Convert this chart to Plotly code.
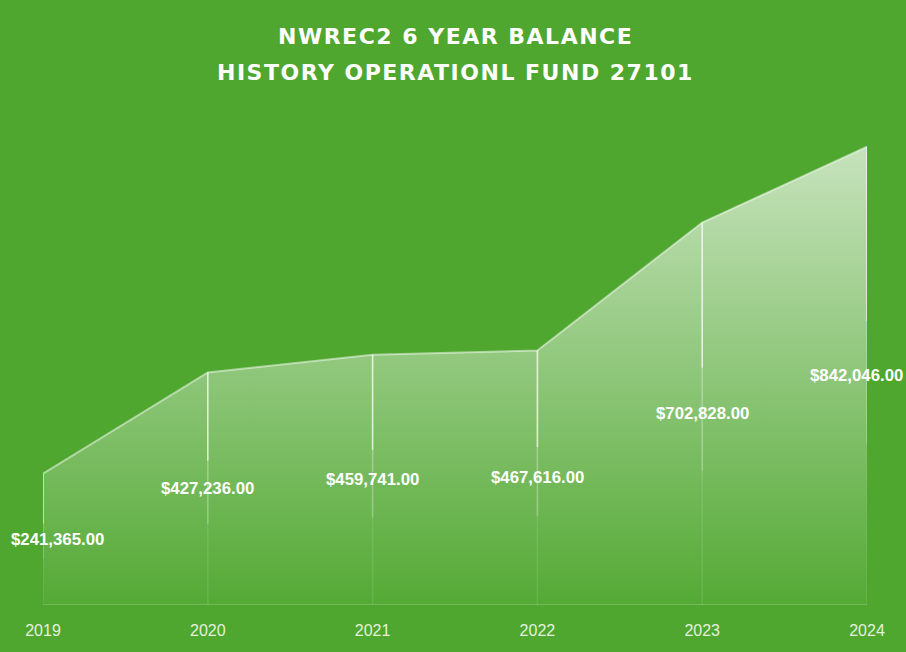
import plotly.graph_objects as go

years = [2019, 2020, 2021, 2022, 2023, 2024]
balances = [241365.00, 427236.00, 459741.00, 467616.00, 702828.00, 842046.00]
labels = ["$241,365.00", "$427,236.00", "$459,741.00", "$467,616.00", "$702,828.00", "$842,046.00"]
tick_text = ["2019", "2020", "2021", "2022", "2023", "2024"]
title_lines = ["NWREC2 6 YEAR BALANCE", "HISTORY OPERATIONL FUND 27101"]

BG = "#4fa72f"

fig = go.Figure()

fig.add_trace(go.Scatter(
    x=years, y=balances, mode="lines",
    line=dict(color="rgba(255,255,255,0.5)", width=2),
    fill="tozeroy",
    fillgradient=dict(
        type="vertical",
        colorscale=[[0, "rgba(255,255,255,0.03)"], [1, "rgba(255,255,255,0.68)"]],
    ),
    hoverinfo="skip", showlegend=False,
))

# drop lines (fading toward the baseline)
for x, v in zip(years, balances):
    fig.add_shape(type="line", xref="x", yref="y", x0=x, x1=x, y0=v, y1=v * 0.62,
                  line=dict(color="rgba(255,255,255,0.75)", width=1.6), layer="above")
    fig.add_shape(type="line", xref="x", yref="y", x0=x, x1=x, y0=v * 0.62, y1=v * 0.35,
                  line=dict(color="rgba(255,255,255,0.3)", width=1.6), layer="above")
    fig.add_shape(type="line", xref="x", yref="y", x0=x, x1=x, y0=v * 0.35, y1=0,
                  line=dict(color="rgba(255,255,255,0.1)", width=1.6), layer="above")

# baseline
fig.add_shape(type="line", xref="x", yref="y", x0=years[0], x1=years[-1], y0=0, y1=0,
              line=dict(color="rgba(255,255,255,0.18)", width=2), layer="above")

# value labels at half height
for i, (x, v, t) in enumerate(zip(years, balances, labels)):
    xshift = 0
    if i == 0:
        xshift = 14
    if i == len(years) - 1:
        xshift = -11
    fig.add_annotation(x=x, y=v / 2, text=t, showarrow=False, xshift=xshift,
                       font=dict(family="Liberation Sans", size=16.8, color="white", weight="bold"),
                       xanchor="center", yanchor="middle")

# title lines
for t, yp in zip(title_lines, [1.1267, 1.0554]):
    fig.add_annotation(xref="paper", yref="paper", x=0.5, y=yp, showarrow=False,
                       text='<span style="letter-spacing:1.5px">' + t + '</span>',
                       font=dict(family="DejaVu Sans", size=22, color="white", weight="bold"),
                       xanchor="center", yanchor="middle")

fig.update_layout(
    width=906, height=652,
    paper_bgcolor=BG, plot_bgcolor=BG,
    margin=dict(l=43, r=39, t=100, b=47),
    xaxis=dict(
        range=[2019, 2024], tickmode="array", tickvals=years, ticktext=tick_text,
        showgrid=False, zeroline=False, showline=False, ticks="",
        tickfont=dict(family="Liberation Sans", size=16, color="#e4f1dd"),
        ticklabelstandoff=14,
    ),
    yaxis=dict(range=[0, 928000], showgrid=False, zeroline=False, showline=False,
               showticklabels=False, ticks=""),
)

fig.write_html("out.html", post_script="document.body.style.margin='0';",
               config={"displayModeBar": False})
